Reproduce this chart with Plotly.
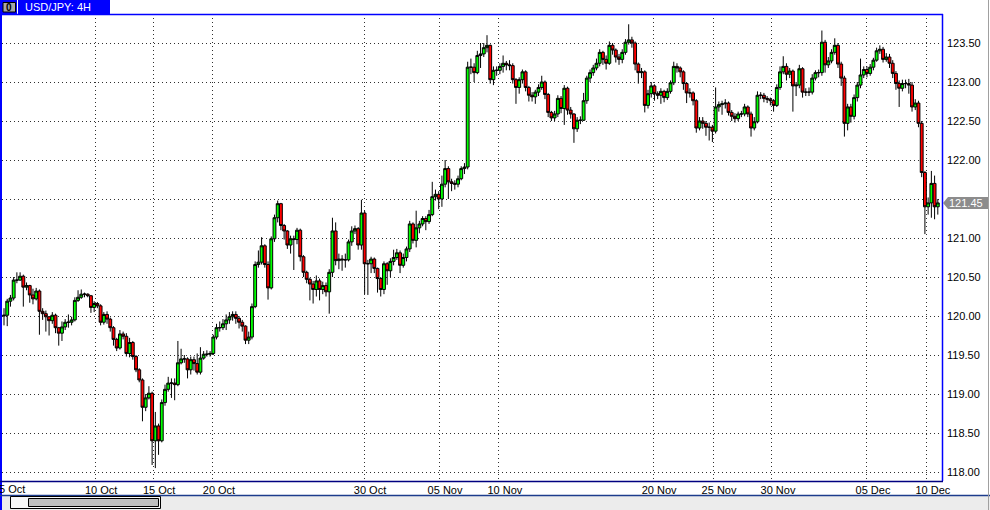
import plotly.graph_objects as go

# ---------------- data (USD/JPY 4H) ----------------
first_open = 120.00
close = [
    120.01,120.19,120.23,120.46,120.46,120.51,120.37,120.39,120.27,120.22,
    120.32,120.06,120.03,119.99,119.94,120.01,119.85,119.78,119.86,119.92,
    119.92,119.95,120.20,120.24,120.28,120.28,120.26,120.11,120.16,120.13,
    119.92,120.02,119.96,119.85,119.70,119.59,119.77,119.74,119.52,119.66,
    119.48,119.31,119.18,118.83,118.95,119.01,118.40,118.59,118.40,118.89,
    119.06,119.14,119.14,119.12,119.40,119.45,119.45,119.31,119.44,119.39,
    119.28,119.46,119.51,119.51,119.52,119.73,119.85,119.85,119.90,119.95,
    119.99,120.02,119.97,119.92,119.87,119.69,119.73,120.12,120.66,120.69,
    120.90,120.66,120.36,120.99,121.26,121.44,121.16,121.09,120.91,120.99,
    120.98,121.10,120.76,120.56,120.47,120.41,120.34,120.45,120.34,120.39,
    120.31,120.56,121.09,120.71,120.73,120.72,120.72,120.95,121.09,121.12,
    120.91,121.32,120.67,120.67,120.73,120.61,120.48,120.34,120.67,120.58,
    120.70,120.75,120.81,120.65,120.75,120.86,121.18,120.97,121.13,121.18,
    121.25,121.21,121.30,121.53,121.56,121.50,121.69,121.89,121.72,121.70,
    121.69,121.76,121.89,121.91,123.19,123.19,123.12,123.34,123.36,123.44,
    123.47,123.03,123.15,123.15,123.20,123.24,123.22,123.21,123.03,122.93,
    123.03,123.13,122.93,122.83,122.81,122.87,122.93,123.00,122.84,122.61,
    122.54,122.59,122.79,122.66,122.92,122.64,122.59,122.40,122.51,122.51,
    122.76,123.05,123.12,123.18,123.24,123.38,123.29,123.24,123.47,123.41,
    123.32,123.29,123.38,123.51,123.54,123.50,123.23,123.12,123.13,122.70,
    122.85,122.95,122.85,122.83,122.88,122.80,122.88,122.99,123.20,123.18,
    123.13,122.98,122.86,122.86,122.76,122.41,122.50,122.47,122.42,122.42,
    122.37,122.68,122.71,122.72,122.73,122.61,122.56,122.53,122.59,122.59,
    122.68,122.59,122.41,122.49,122.83,122.83,122.79,122.78,122.76,122.70,
    122.93,123.13,123.20,123.10,123.14,122.95,122.96,123.17,122.87,122.87,
    122.87,123.05,123.12,123.12,123.51,123.22,123.27,123.38,123.47,123.23,
    123.05,122.47,122.68,122.56,122.80,122.96,123.09,123.16,123.11,123.19,
    123.28,123.40,123.42,123.29,123.32,123.24,123.11,122.98,122.92,122.98,
    122.98,122.96,122.68,122.73,122.47,121.84,121.40,121.45,121.70,121.40,
    121.45,
]
high = [
    120.10,120.22,120.27,120.50,120.56,120.56,120.53,120.43,120.40,120.35,
    120.36,120.34,120.10,120.07,120.00,120.05,120.03,119.86,119.93,119.96,
    120.02,119.99,120.24,120.33,120.34,120.30,120.29,120.27,120.19,120.18,
    120.15,120.05,120.06,119.98,119.87,119.72,119.82,119.80,119.78,119.72,
    119.68,119.50,119.33,119.20,119.00,119.10,119.03,118.77,118.62,118.93,
    119.12,119.22,119.20,119.20,119.68,119.58,119.50,119.47,119.48,119.48,
    119.52,119.60,119.55,119.56,119.55,119.76,119.90,119.93,119.96,120.02,
    120.05,120.06,120.06,120.00,119.95,119.88,119.80,120.16,120.70,120.84,
    121.01,120.92,120.70,121.02,121.30,121.48,121.45,121.18,121.10,121.03,
    121.03,121.13,121.12,120.78,120.58,120.49,120.45,120.52,120.48,120.44,
    120.43,120.60,121.26,121.20,120.80,120.78,120.80,120.98,121.15,121.16,
    121.14,121.49,121.35,120.72,120.76,120.75,120.62,120.50,120.70,120.69,
    120.74,120.85,120.86,120.84,120.80,120.89,121.22,121.20,121.35,121.22,
    121.28,121.28,121.36,121.72,121.62,121.60,121.80,122.00,121.92,121.76,
    121.74,121.80,121.92,121.96,123.26,123.30,123.24,123.40,123.50,123.50,
    123.60,123.48,123.20,123.20,123.24,123.34,123.27,123.28,123.24,123.05,
    123.06,123.16,123.15,122.95,122.87,122.90,122.97,123.08,123.02,122.86,
    122.63,122.63,122.83,122.82,122.96,122.94,122.68,122.60,122.55,122.56,
    122.86,123.08,123.16,123.22,123.30,123.42,123.40,123.34,123.52,123.50,
    123.43,123.36,123.42,123.55,123.74,123.58,123.52,123.25,123.18,123.15,
    122.90,123.00,122.97,122.88,122.92,122.90,122.92,123.02,123.26,123.24,
    123.20,123.15,123.00,122.92,122.88,122.78,122.55,122.55,122.50,122.48,
    122.45,122.93,122.75,122.76,122.78,122.75,122.64,122.60,122.62,122.63,
    122.72,122.70,122.62,122.55,122.88,122.87,122.86,122.82,122.80,122.78,
    122.97,123.20,123.33,123.24,123.18,123.16,123.00,123.22,123.19,122.92,
    122.93,123.10,123.15,123.16,123.66,123.54,123.32,123.42,123.56,123.50,
    123.26,123.08,122.72,122.72,122.84,123.00,123.30,123.20,123.20,123.23,
    123.31,123.44,123.47,123.45,123.37,123.36,123.28,123.14,123.02,123.03,
    123.03,123.04,123.00,122.78,122.76,122.50,121.86,121.52,121.86,121.80,
    121.50,
]
low = [
    119.88,119.87,120.12,120.20,120.42,120.45,120.12,120.33,120.17,120.15,
    120.20,119.76,119.95,119.80,119.75,119.90,119.78,119.62,119.68,119.82,
    119.85,119.88,119.93,120.18,120.22,120.24,120.24,120.04,120.05,120.10,
    119.88,119.89,119.90,119.80,119.62,119.55,119.57,119.70,119.48,119.47,
    119.44,119.28,119.15,118.65,118.78,118.93,118.09,118.05,118.22,118.38,
    118.85,119.03,118.95,118.92,119.10,119.38,119.40,119.20,119.25,119.30,
    119.25,119.25,119.44,119.48,119.48,119.50,119.70,119.80,119.82,119.82,
    119.90,119.94,119.90,119.84,119.80,119.64,119.64,119.70,120.10,120.62,
    120.66,120.62,120.21,120.34,120.95,121.20,121.10,120.98,120.86,120.80,
    120.59,120.92,120.70,120.50,120.42,120.20,120.16,120.25,120.20,120.28,
    120.25,120.03,120.50,120.65,120.60,120.58,120.62,120.70,120.90,121.05,
    120.85,120.85,120.28,120.27,120.55,120.55,120.30,120.25,120.28,120.40,
    120.50,120.65,120.72,120.55,120.62,120.70,120.82,120.93,120.88,121.06,
    121.15,121.10,121.18,121.28,121.48,121.37,121.40,121.65,121.50,121.60,
    121.62,121.65,121.74,121.82,121.88,123.10,123.00,123.10,123.18,123.32,
    123.38,122.98,122.96,123.08,123.10,123.12,123.15,123.15,122.98,122.72,
    122.85,122.98,122.88,122.75,122.75,122.72,122.82,122.90,122.78,122.55,
    122.50,122.50,122.55,122.60,122.45,122.58,122.53,122.22,122.36,122.46,
    122.50,122.72,123.00,123.08,123.15,123.20,123.22,123.16,123.22,123.35,
    123.25,123.22,123.24,123.35,123.48,123.44,123.15,122.98,123.05,122.61,
    122.66,122.80,122.76,122.78,122.72,122.74,122.77,122.85,122.96,123.12,
    123.06,122.90,122.73,122.80,122.70,122.35,122.38,122.40,122.31,122.25,
    122.23,122.34,122.62,122.58,122.66,122.57,122.50,122.48,122.50,122.55,
    122.56,122.55,122.30,122.38,122.47,122.78,122.74,122.73,122.70,122.62,
    122.68,122.90,123.10,123.02,123.05,122.62,122.82,122.92,122.80,122.82,
    122.82,122.84,123.02,123.06,123.08,123.12,123.18,123.24,123.35,123.18,
    122.95,122.30,122.38,122.48,122.52,122.75,122.92,123.05,123.06,123.08,
    123.15,123.26,123.36,123.25,123.26,123.18,123.05,122.90,122.68,122.88,
    122.92,122.85,122.62,122.64,122.42,121.78,121.05,121.30,121.26,121.24,
    121.30,
]
date_labels = ["10 Oct", "15 Oct", "20 Oct", "30 Oct", "05 Nov", "10 Nov",
               "20 Nov", "25 Nov", "30 Nov", "05 Dec", "10 Dec"]
date_bars = [28.3, 46.3, 64.9, 111.8, 135.1, 153.7, 201.6, 220.2, 238.5, 268.0, 286.6]
first_label = "05 Oct"
price_ticks = [118.0 + 0.5 * k for k in range(12)]
symbol_title = "USD/JPY: 4H"

# ---------------- derived ----------------
opens = [first_open] + close[:-1]
highs = [max(h, o, c) for h, o, c in zip(high, opens, close)]
lows = [min(l, o, c) for l, o, c in zip(low, opens, close)]
xs = list(range(len(close)))
last = close[-1]
# the current-price marker covers the tick label it sits on
price_text = ["" if abs(v - last) < 0.1 else f"{v:.2f}" for v in price_ticks]

W, H = 990, 510
L, R, T, B = 2, 942, 14, 481   # plot area in pixels
BAR_PX = 3.22
X0_PX = 4


def PX(px):
    return (px - L) / (R - L)


def PY(py):
    return (B - py) / (B - T)


FONT = "Liberation Sans, Arial, sans-serif"

fig = go.Figure()
fig.add_trace(go.Candlestick(
    x=xs, open=opens, high=highs, low=lows, close=close,
    increasing=dict(fillcolor="#00ff00", line=dict(color="#000000", width=1)),
    decreasing=dict(fillcolor="#ff0000", line=dict(color="#000000", width=1)),
    whiskerwidth=0, showlegend=False, hoverinfo="skip",
))

xrange = [(L - X0_PX) / BAR_PX, (R - X0_PX) / BAR_PX]
yrange = [123.5 - (B - 43) / 78.0, 123.5 + (43 - T) / 78.0]

shapes = []
# frame & chrome
shapes.append(dict(type="rect", xref="paper", yref="paper", x0=PX(0), x1=PX(110),
                   y0=PY(14), y1=PY(0), fillcolor="#0000ff", line=dict(width=0), layer="above"))
shapes.append(dict(type="rect", xref="paper", yref="paper", x0=PX(3), x1=PX(15.5),
                   y0=PY(12), y1=PY(2.5), fillcolor="#a8a8a8", line=dict(color="#000000", width=1), layer="above"))
shapes.append(dict(type="line", xref="paper", yref="paper", x0=PX(17.5), x1=PX(17.5),
                   y0=PY(14), y1=PY(0), line=dict(color="#ffffff", width=1), layer="above"))
shapes.append(dict(type="line", xref="paper", yref="paper", x0=PX(0), x1=PX(943),
                   y0=PY(14.5), y1=PY(14.5), line=dict(color="#0000ff", width=1.5), layer="above"))
shapes.append(dict(type="rect", xref="paper", yref="paper", x0=PX(0), x1=PX(2),
                   y0=PY(510), y1=PY(0), fillcolor="#0000ff", line=dict(width=0), layer="above"))
shapes.append(dict(type="line", xref="paper", yref="paper", x0=PX(942.5), x1=PX(942.5),
                   y0=PY(481), y1=PY(14), line=dict(color="#0000ff", width=1.5), layer="above"))
shapes.append(dict(type="line", xref="paper", yref="paper", x0=PX(0), x1=PX(943),
                   y0=PY(481.5), y1=PY(481.5), line=dict(color="#000080", width=1.5), layer="above"))
shapes.append(dict(type="rect", xref="paper", yref="paper", x0=PX(2), x1=PX(990),
                   y0=PY(510), y1=PY(495.5), fillcolor="#ececec", line=dict(width=0), layer="above"))
shapes.append(dict(type="line", xref="paper", yref="paper", x0=PX(0), x1=PX(990),
                   y0=PY(495.5), y1=PY(495.5), line=dict(color="#1c3c8c", width=1.5), layer="above"))
shapes.append(dict(type="rect", xref="paper", yref="paper", x0=PX(10.5), x1=PX(160.5),
                   y0=PY(508.5), y1=PY(496.5), fillcolor="#f8f8f8", line=dict(color="#000000", width=1), layer="above"))
shapes.append(dict(type="rect", xref="paper", yref="paper", x0=PX(28.5), x1=PX(158.5),
                   y0=PY(506.5), y1=PY(498.5), fillcolor="#c0c0c0", line=dict(color="#000000", width=1), layer="above"))
shapes.append(dict(type="line", xref="paper", yref="paper", x0=PX(988.5), x1=PX(988.5),
                   y0=PY(510), y1=PY(0), line=dict(color="#a0a0a0", width=1), layer="above"))
# current price marker
shapes.append(dict(type="path", xref="paper", yref="y", xsizemode="pixel", ysizemode="pixel",
                   xanchor=1.0, yanchor=last,
                   path="M 1,0 L 6,6 L 46,6 L 46,-6 L 6,-6 Z",
                   fillcolor="#8c8c8c", line=dict(width=0), layer="above"))

annotations = [
    dict(xref="paper", yref="paper", x=PX(9.3), y=PY(7.3), text="<b>0</b>", showarrow=False,
         font=dict(family=FONT, size=10, color="#000000"), xanchor="center", yanchor="middle"),
    dict(xref="paper", yref="paper", x=PX(23), y=PY(7.5), text=symbol_title, showarrow=False,
         font=dict(family=FONT, size=11, color="#ffffff"), xanchor="left", yanchor="middle"),
    dict(xref="paper", yref="paper", x=PX(-9), y=PY(489), text=first_label, showarrow=False,
         font=dict(family=FONT, size=11, color="#000000"), xanchor="left", yanchor="middle"),
    dict(xref="paper", yref="y", x=PX(966), y=last, text=f"{last:.2f}", showarrow=False,
         font=dict(family=FONT, size=11, color="#ffffff"), xanchor="center", yanchor="middle"),
]

fig.update_layout(
    width=W, height=H,
    margin=dict(l=L, r=W - R, t=T, b=H - B, pad=0, autoexpand=False),
    paper_bgcolor="#ffffff", plot_bgcolor="#ffffff",
    boxgap=0.12, boxgroupgap=0,
    showlegend=False,
    shapes=shapes, annotations=annotations,
    font=dict(family=FONT, size=11, color="#000000"),
    xaxis=dict(
        range=xrange, rangeslider=dict(visible=False), fixedrange=True,
        tickmode="array", tickvals=date_bars, ticktext=date_labels,
        showgrid=True, gridcolor="#303030", gridwidth=1, griddash="1px,3px",
        zeroline=False, showline=False, ticks="", ticklabelshift=6, ticklabelstandoff=1,
        tickfont=dict(family=FONT, size=11, color="#000000"),
    ),
    yaxis=dict(
        side="right", range=yrange, fixedrange=True,
        tickmode="array", tickvals=price_ticks, ticktext=price_text,
        showgrid=True, gridcolor="#303030", gridwidth=1, griddash="1px,3px",
        zeroline=False, showline=False, ticks="", ticklabelstandoff=4,
        tickfont=dict(family=FONT, size=11, color="#000000"),
    ),
)

fig.write_html("out.html", config={"displayModeBar": False, "staticPlot": True},
               post_script="document.body.style.margin='0';document.body.style.overflow='hidden';")
